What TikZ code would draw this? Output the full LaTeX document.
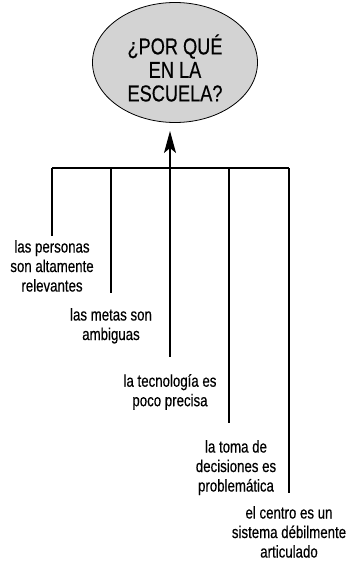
\documentclass[tikz,border=0pt]{standalone}
\usepackage{fontspec}
\setmainfont{Liberation Sans}[FakeStretch=0.78,FakeBold=0.4]
\newfontfamily\titlefont{Liberation Sans}[FakeStretch=0.79,FakeBold=0.4]
\usetikzlibrary{arrows.meta,shapes.geometric}
\definecolor{ellgray}{HTML}{D3D3D3}
\tikzset{
  conn/.style={draw=black, line width=1.2pt},
  item/.style={anchor=north, align=center, inner sep=0pt, font=\fontsize{17}{19.5}\selectfont},
  titleshape/.style={ellipse, draw=black, line width=0.8pt, fill=ellgray, minimum width=165pt, minimum height=120pt, inner sep=0pt},
  titletext/.style={align=center, inner sep=0pt, font=\titlefont\fontsize{23}{23.5}\selectfont}
}
\begin{document}
\begin{tikzpicture}[x=1pt,y=-1pt]
\useasboundingbox (0,0) rectangle (346,562);
\node[titleshape] (title) at (175,62.5) {};
\node[titletext] (titlelabel) at (175,68) {¿POR QUÉ\\EN LA\\ESCUELA?};
\coordinate (b1) at (52,168);
\coordinate (b2) at (111,168);
\coordinate (b3) at (170,168);
\coordinate (b4) at (229,168);
\coordinate (b5) at (289,168);
\coordinate (tip) at (170,131);
\node[item] (t1) at (52,240) {las personas\\son altamente\\relevantes};
\node[item] (t2) at (111,308) {las metas son\\ambiguas};
\node[item] (t3) at (170,374) {la tecnología es\\poco precisa};
\node[item] (t4) at (236,440) {la toma de\\decisiones es\\problemática};
\node[item] (t5) at (289,506) {el centro es un\\sistema débilmente\\articulado};
\coordinate (e1) at (52,236);
\coordinate (e2) at (111,293);
\coordinate (e3) at (170,357);
\coordinate (e4) at (229,423);
\coordinate (e5) at (289,493);
\draw[conn] (b1) -- (b5);
\draw[conn] (b1) -- (e1);
\draw[conn] (b2) -- (e2);
\draw[conn] (b3) -- (e3);
\draw[conn] (b4) -- (e4);
\draw[conn] (b5) -- (e5);
\draw[conn, -{Stealth[length=22pt,width=12pt,inset=5pt]}] (b3) -- (tip);
\end{tikzpicture}
\end{document}
